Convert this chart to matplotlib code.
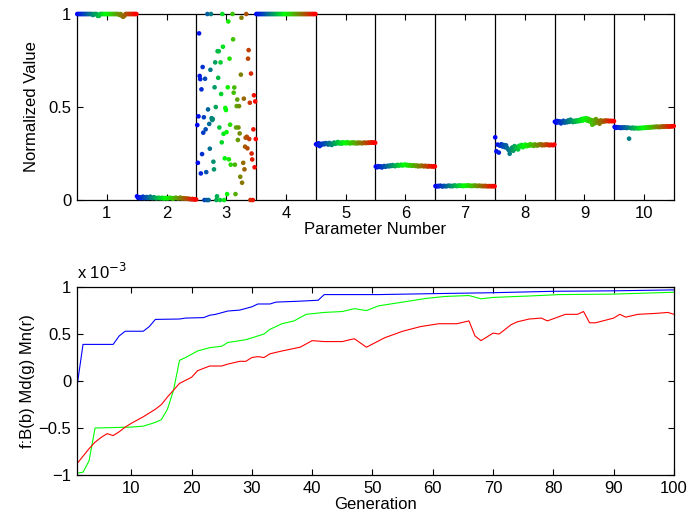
import numpy as np
import matplotlib
matplotlib.use('Agg')
import matplotlib.pyplot as plt
from matplotlib.colors import LinearSegmentedColormap

plt.rcParams['font.family'] = ['Liberation Sans', 'DejaVu Sans']
plt.rcParams['font.size'] = 12

# ---- top panel: normalized parameter values, 50 samples over the 100 generations ----
p1 = [1, 1, 1, 1, 1, 1, 1, 1, 1, 1, 1, 1, 1, 0.995, 1, 1, 1, 0.99, 0.99, 1,
      1, 1, 1, 1, 1, 1, 1, 1, 1, 1, 1, 1, 1, 1, 1, 0.995, 1, 0.99, 0.985, 0.99,
      1, 1, 1, 1, 1, 1, 1, 1, 1, 1]
p2 = [0.02, 0.012, 0.015, 0.01, 0.014, 0.018, 0.01, 0.012, 0.016, 0.011,
      0.013, 0.018, 0.012, 0.01, 0.015, 0.012, 0.009, 0.011, 0.012, 0.01,
      0.01, 0.012, 0.008, 0.01, 0.011, 0.009, 0.01, 0.012, 0.011, 0.009,
      0.008, 0.01, 0.012, 0.011, 0.009, 0.01, 0.013, 0.008, 0.009, 0.01,
      0.007, 0.008, 0.006, 0.007, 0.005, 0.004, 0.006, 0.003, 0.004, 0.003]
p4 = [1] * 50
p5 = [0.300, 0.296, 0.305, 0.290, 0.302, 0.298, 0.304, 0.300, 0.306, 0.303,
      0.298, 0.307, 0.301, 0.296, 0.305, 0.309, 0.302, 0.306, 0.312, 0.304,
      0.308, 0.303, 0.310, 0.306, 0.309, 0.305, 0.311, 0.307, 0.304, 0.309,
      0.306, 0.310, 0.305, 0.308, 0.304, 0.309, 0.306, 0.308, 0.305, 0.307,
      0.309, 0.306, 0.308, 0.307, 0.309, 0.308, 0.310, 0.308, 0.309, 0.308]
p6 = [0.180, 0.176, 0.182, 0.178, 0.181, 0.175, 0.180, 0.183, 0.179, 0.182,
      0.184, 0.181, 0.186, 0.183, 0.188, 0.184, 0.182, 0.186, 0.189, 0.185,
      0.187, 0.190, 0.186, 0.188, 0.191, 0.187, 0.189, 0.185, 0.188, 0.186,
      0.184, 0.187, 0.185, 0.183, 0.186, 0.181, 0.184, 0.182, 0.185, 0.183,
      0.181, 0.184, 0.182, 0.180, 0.183, 0.181, 0.182, 0.180, 0.181, 0.181]
p7 = [0.075, 0.073, 0.076, 0.074, 0.077, 0.075, 0.073, 0.076, 0.075, 0.074,
      0.076, 0.077, 0.075, 0.076, 0.074, 0.077, 0.078, 0.076, 0.075, 0.077,
      0.078, 0.076, 0.077, 0.075, 0.078, 0.076, 0.077, 0.079, 0.076, 0.077,
      0.075, 0.077, 0.076, 0.078, 0.076, 0.075, 0.077, 0.076, 0.075, 0.076,
      0.074, 0.076, 0.075, 0.074, 0.075, 0.074, 0.075, 0.074, 0.075, 0.074]
p8 = [0.337, 0.262, 0.298, 0.255, 0.292, 0.300, 0.288, 0.296, 0.284, 0.294,
      0.280, 0.270, 0.249, 0.268, 0.282, 0.265, 0.290, 0.276, 0.285, 0.272,
      0.292, 0.288, 0.296, 0.284, 0.293, 0.298, 0.289, 0.295, 0.292, 0.300,
      0.294, 0.297, 0.291, 0.299, 0.295, 0.293, 0.298, 0.296, 0.300, 0.294,
      0.297, 0.295, 0.299, 0.296, 0.298, 0.294, 0.297, 0.296, 0.295, 0.298]
p9 = [0.421, 0.415, 0.425, 0.418, 0.423, 0.412, 0.420, 0.426, 0.416, 0.422,
      0.418, 0.428, 0.420, 0.432, 0.424, 0.419, 0.426, 0.421, 0.428, 0.423,
      0.430, 0.425, 0.435, 0.427, 0.438, 0.431, 0.440, 0.426, 0.436, 0.422,
      0.430, 0.405, 0.428, 0.412, 0.435, 0.418, 0.425, 0.410, 0.428, 0.420,
      0.426, 0.422, 0.428, 0.424, 0.427, 0.423, 0.426, 0.424, 0.425, 0.424]
p10 = [0.393, 0.388, 0.392, 0.389, 0.391, 0.387, 0.390, 0.388, 0.391, 0.389,
       0.387, 0.390, 0.330, 0.388, 0.386, 0.389, 0.385, 0.388, 0.386, 0.387,
       0.385, 0.388, 0.386, 0.389, 0.387, 0.390, 0.388, 0.391, 0.389, 0.392,
       0.390, 0.393, 0.391, 0.394, 0.392, 0.395, 0.393, 0.392, 0.395, 0.393,
       0.396, 0.394, 0.395, 0.397, 0.394, 0.396, 0.395, 0.397, 0.396, 0.398]

# parameter 3 is scattered, so keep its generation for each point
gen3 = [2, 3, 4, 5, 6, 7, 8, 9, 10, 11, 12, 13, 14, 15, 16, 17, 18, 19, 20,
        21, 22, 23, 24, 25, 26, 27, 28, 29, 30, 31, 32, 33, 34, 35, 36, 37, 38,
        39, 40, 41, 42, 43, 44, 45, 46, 47, 48, 49, 50, 51, 52, 53, 54, 55, 56,
        57, 58, 61, 62, 63, 64, 65, 66, 67, 68, 69, 70, 71, 72, 73, 74, 75, 76,
        77, 79, 80, 81, 82, 83, 84, 85, 86, 87, 88, 89, 90, 91, 92, 93, 94, 95,
        96, 97, 98, 99, 100]
val3 = [0.403, 0.20, 0.45, 0.896, 0.667, 0.65, 0.143, 0.595, 0.247, 0.715,
        0.362, 0.445, 0.0, 0.652, 0.38, 0.15, 0.0, 1.0, 0.487,
        0.0, 0.409, 0.276, 0.70, 1.0, 0.44, 0.43, 0.435, 0.206, 0.165, 0.606,
        0.74, 0.50, 0.0, 0.02, 0.80, 0.657, 0.80,
        0.39, 0.0, 0.74, 0.57, 0.31, 1.0, 0.824, 0.356, 0.0, 0.224, 0.495,
        0.484, 0.365, 0.032, 0.606, 0.96, 0.219, 0.76,
        0.405, 0.19, 1.0, 0.864, 0.577, 0.605, 0.19, 0.032, 0.39, 0.505, 0.54,
        0.323, 0.39, 0.505, 0.358, 0.125, 0.674, 0.98,
        0.093, 0.20, 0.545, 0.165, 0.287, 0.335, 1.0, 0.34, 0.278, 0.76, 0.806,
        0.328, 0.523, 0.0, 0.68, 0.25, 0.218, 0.0,
        0.38, 0.563, 0.176, 0.53, 0.328]

# ---- bottom panel: fitness (x 10^-3) best / median / mean per generation ----
gen_best = [1, 2, 7, 8, 9, 12, 13, 14, 18, 19, 22, 23, 24, 26, 28, 30, 31, 33,
            34, 38, 41, 42, 51, 60, 70, 80, 90, 100]
best = [-0.06, 0.39, 0.39, 0.48, 0.53, 0.53, 0.58, 0.656, 0.66, 0.67, 0.675,
        0.70, 0.71, 0.745, 0.755, 0.79, 0.82, 0.82, 0.84, 0.85, 0.86, 0.92,
        0.92, 0.93, 0.94, 0.955, 0.96, 0.97]
gen_med = [1, 2, 3, 4, 10, 12, 14, 15, 16, 17, 18, 19, 21, 23, 25, 26, 29, 32,
           33, 35, 37, 39, 42, 45, 47, 49, 51, 55, 59, 62, 66, 68, 70, 76, 81,
           90, 100]
med = [-0.98, -0.97, -0.85, -0.5, -0.49, -0.48, -0.44, -0.41, -0.3, -0.1,
       0.22, 0.25, 0.32, 0.355, 0.37, 0.41, 0.44, 0.50, 0.55, 0.61, 0.64, 0.71,
       0.73, 0.74, 0.77, 0.75, 0.80, 0.84, 0.88, 0.90, 0.91, 0.875, 0.89, 0.905,
       0.92, 0.925, 0.945]
gen_mean = [1, 2, 3, 4, 5, 6, 7, 8, 9, 10, 12, 14, 15, 16, 18, 20, 21, 23, 25,
            26, 28, 29, 30, 31, 32, 33, 35, 38, 40, 42, 45, 46, 47, 49, 52, 55,
            58, 61, 64, 66, 67, 68, 70, 71, 73, 74, 76, 78, 79, 82, 84, 85, 86,
            87, 90, 91, 92, 94, 97, 99, 100]
mean = [-0.88, -0.8, -0.72, -0.65, -0.6, -0.56, -0.58, -0.54, -0.49, -0.45,
        -0.38, -0.3, -0.25, -0.17, -0.025, 0.04, 0.11, 0.16, 0.16, 0.18, 0.21,
        0.21, 0.25, 0.26, 0.25, 0.29, 0.32, 0.36, 0.43, 0.42, 0.42, 0.436,
        0.45, 0.36, 0.46, 0.53, 0.58, 0.61, 0.61, 0.64, 0.48, 0.43, 0.51, 0.50,
        0.60, 0.63, 0.66, 0.67, 0.64, 0.71, 0.71, 0.74, 0.62, 0.62, 0.67, 0.71,
        0.68, 0.71, 0.72, 0.73, 0.71]

# blue -> green -> red by generation
cmap = LinearSegmentedColormap.from_list('bgr', [(0, 0, 1), (0, 1, 0), (1, 0, 0)])

fig = plt.figure(figsize=(6.91, 5.25), dpi=100)


def matlab_box(ax):
    for s in ax.spines.values():
        s.set_linewidth(0.9)
    ax.tick_params(direction='in', length=4, width=0.8, top=True, right=True,
                   pad=4)


# top
ax1 = fig.add_axes([0.1114, 0.619, 0.864, 0.3543])
bands = {1: p1, 2: p2, 4: p4, 5: p5, 6: p6, 7: p7, 8: p8, 9: p9, 10: p10}
for k in range(1, 11):
    if k == 3:
        g = np.array(gen3, dtype=float)
        v = np.array(val3)
    else:
        v = np.array(bands[k])
        g = np.linspace(1, 100, len(v))
    xs = k - 0.5 + (g - 0.5) / 100.0
    ax1.scatter(xs, v, c=cmap((g - 1) / 99.0), s=11, linewidths=0,
                clip_on=False, zorder=3)
for b in np.arange(1.5, 10.5, 1.0):
    ax1.axvline(b, color='black', lw=0.9, zorder=2)
ax1.set_xlim(0.5, 10.5)
ax1.set_ylim(0, 1)
ax1.set_xticks(range(1, 11))
ax1.set_yticks([0, 0.5, 1])
ax1.set_yticklabels(['0', '0.5', '1'])
ax1.set_xlabel('Parameter Number', labelpad=1)
ax1.set_ylabel('Normalized Value', labelpad=7)
matlab_box(ax1)

# bottom
ax2 = fig.add_axes([0.1114, 0.0952, 0.864, 0.358])
ax2.plot(gen_best, best, color=(0, 0, 1), lw=0.8)
ax2.plot(gen_med, med, color=(0, 1, 0), lw=0.8)
ax2.plot(gen_mean, mean, color=(1, 0, 0), lw=0.8)
ax2.set_xlim(1, 100)
ax2.set_ylim(-1, 1)
ax2.set_xticks(range(10, 101, 10))
ax2.set_yticks([-1, -0.5, 0, 0.5, 1])
ax2.set_yticklabels(['\u22121', '\u22120.5', '0', '0.5', '1'])
ax2.set_xlabel('Generation', labelpad=1)
ax2.set_ylabel('f:B(b) Md(g) Mn(r)', labelpad=3)
ax2.text(0.0, 1.025, 'x 10$^{-3}$', transform=ax2.transAxes, ha='left',
         va='bottom')
matlab_box(ax2)

fig.savefig('out.png', dpi=100)
